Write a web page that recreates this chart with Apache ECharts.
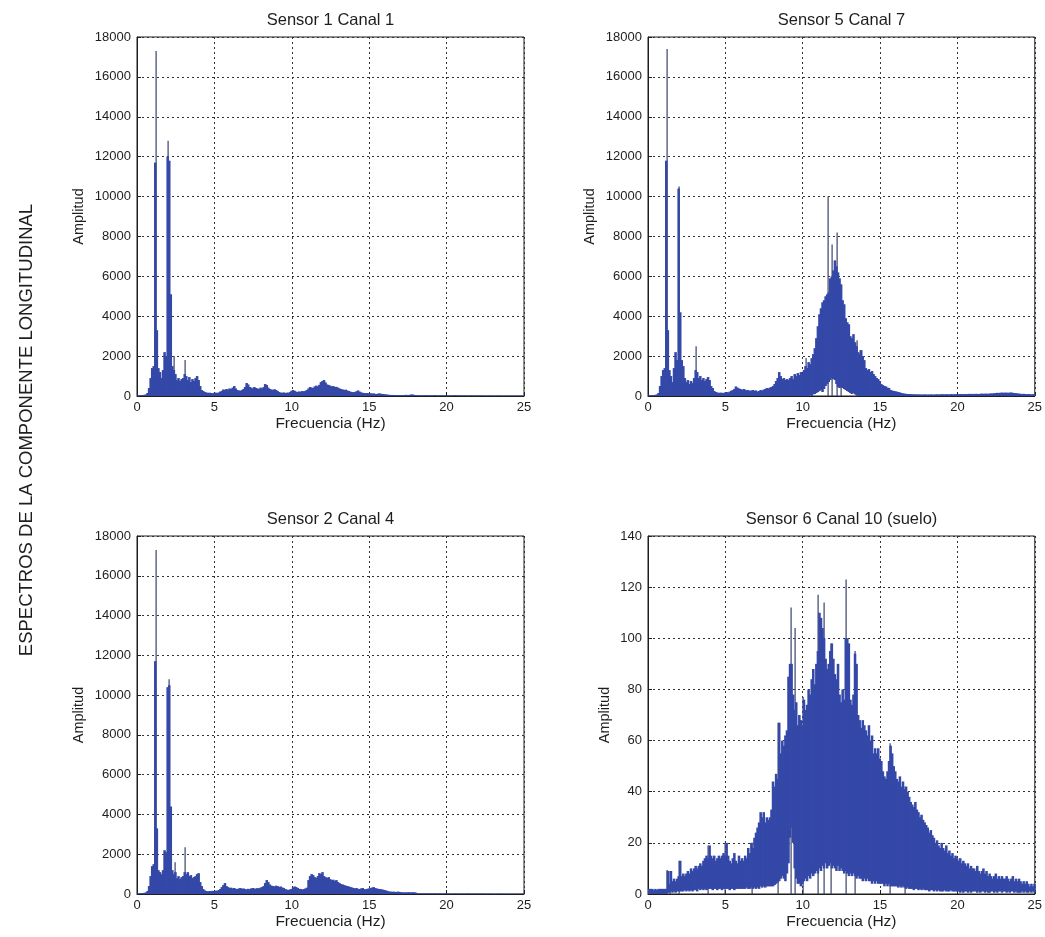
<!DOCTYPE html>
<html>
<head>
<meta charset="utf-8">
<script src="https://cdn.jsdelivr.net/npm/echarts@6/dist/echarts.min.js"></script>
<style>
html,body{margin:0;padding:0;background:#ffffff;}
#chart{width:1045px;height:937px;}
</style>
</head>
<body>
<div id="chart"></div>
<script>
// ---------------- DATA ----------------
// Spectra sampled in 0.1 Hz bins (bin i starts at i*0.1 Hz), 0 .. 25 Hz
const FREQ_STEP = 0.1;
const X_TICKS = [0, 5, 10, 15, 20, 25];

const TITLES = ["Sensor 1 Canal 1", "Sensor 5 Canal 7", "Sensor 2 Canal 4", "Sensor 6 Canal 10 (suelo)"];
const SIDE_LABEL = "ESPECTROS DE LA COMPONENTE LONGITUDINAL";
const X_NAME = "Frecuencia (Hz)";
const Y_NAME = "Amplitud";

// Sensor 1 Canal 1 - upper envelope
const S1_HI = [
  30, 40, 40, 50, 60, 80, 150, 400, 900, 1400,
  1500, 11700, 3300, 1400, 1200, 900, 1300, 2200, 2000, 12000,
  11800, 5100, 1500, 1300, 1100, 800, 900, 750, 850, 900,
  1100, 1000, 800, 950, 700, 850, 750, 900, 1000, 800,
  500, 300, 250, 200, 180, 150, 170, 150, 140, 160,
  170, 150, 180, 220, 260, 330, 300, 350, 320, 380,
  350, 420, 500, 380, 300, 280, 260, 300, 350, 450,
  650, 580, 450, 420, 380, 450, 400, 380, 350, 420,
  380, 450, 600, 550, 420, 350, 330, 300, 340, 300,
  250, 200, 170, 160, 180, 150, 170, 160, 200, 260,
  300, 260, 220, 200, 230, 210, 250, 230, 260, 300,
  380, 450, 420, 400, 480, 520, 480, 560, 700, 750,
  800, 680, 580, 550, 520, 480, 500, 450, 460, 420,
  380, 350, 330, 300, 320, 280, 250, 220, 200, 190,
  200, 240, 280, 220, 180, 160, 150, 140, 150, 130,
  140, 120, 130, 110, 100, 120, 130, 110, 100, 90,
  80, 70, 60, 50, 55, 45, 50, 40, 45, 40,
  45, 40, 50, 60, 45, 55, 70, 80, 60, 50,
  40, 35, 30, 35, 30, 40, 35, 30, 35, 30,
  30, 35, 50, 30, 25, 30, 35, 25, 30, 25,
  30, 25, 30, 25, 35, 50, 30, 25, 30, 25,
  25, 30, 25, 20, 25, 30, 25, 20, 25, 20,
  20, 25, 20, 25, 20, 15, 20, 25, 20, 15,
  20, 15, 20, 25, 20, 15, 20, 15, 20, 15,
  15, 20, 15, 20, 15, 20, 15, 20, 15, 20
];
const S1_LO_START = 0;
const S1_LO = [];
const S1_SPIKES = [[1.18, 11700], [1.25, 17300], [2.02, 12800], [2.39, 2000], [3.08, 1800]];

// Sensor 5 Canal 7
const S5_HI = [
  30, 40, 40, 50, 60, 80, 150, 500, 1000, 1300,
  1400, 11800, 3300, 1300, 1000, 700, 1400, 2200, 1800, 10400,
  4200, 1800, 1500, 900, 700, 800, 600, 750, 650, 900,
  1300, 1200, 900, 1000, 800, 900, 750, 850, 950, 800,
  500, 400, 250, 200, 180, 150, 170, 160, 150, 180,
  200, 180, 220, 260, 300, 350, 480, 420, 380, 350,
  300, 350, 320, 280, 300, 250, 280, 300, 260, 280,
  220, 250, 300, 280, 320, 350, 400, 380, 420, 450,
  500, 600, 750, 900, 1200, 1000, 850, 900, 800, 850,
  800, 900, 1000, 850, 1100, 1000, 1150, 1050, 1200, 1100,
  1300, 1500, 1400, 1700, 1600, 1900, 2100, 2400, 2900, 3500,
  4100, 4400, 4700, 4800, 5000, 5100, 5200, 5900, 6000, 6300,
  6800, 6500, 6200, 5900, 5600, 4800, 4600, 3900, 3700, 3600,
  3000, 2900, 3100, 2700, 2500, 2200, 2100, 2300, 2000, 1800,
  1400, 1300, 1350, 1200, 1250, 1100, 1000, 900, 850, 750,
  600, 550, 500, 480, 420, 400, 300, 280, 250, 240,
  220, 200, 180, 150, 130, 120, 110, 100, 100, 90,
  90, 80, 85, 80, 75, 80, 70, 75, 80, 70,
  75, 70, 80, 75, 70, 80, 85, 75, 80, 90,
  85, 80, 90, 85, 80, 95, 90, 85, 90, 95,
  90, 100, 95, 90, 100, 95, 100, 110, 100, 105,
  100, 110, 105, 100, 110, 120, 110, 115, 120, 110,
  120, 130, 125, 140, 150, 160, 150, 165, 170, 160,
  170, 165, 160, 170, 175, 160, 150, 140, 130, 120,
  110, 100, 110, 100, 90, 100, 90, 80, 90, 80
];
const S5_LO_START = 100; // bin index (10.0 Hz)
const S5_LO = [
  0, 0, 0, 0, 50, 0, 80, 100, 150, 200,
  250, 300, 200, 350, 500, 600, 700, 800, 900, 850,
  800, 600, 450, 400, 450, 400, 350, 300, 250, 200,
  150, 100, 150, 80, 50, 0, 0, 0, 0, 0
];
const S5_SPIKES = [[1.25, 17400], [2.0, 10500], [3.08, 2500], [10.2, 1900], [11.66, 10000],
  [11.92, 7600], [12.2, 8200], [12.5, 5400], [13.48, 2800], [13.72, 2300]];

// Sensor 2 Canal 4
const S2_HI = [
  30, 40, 40, 50, 60, 80, 150, 400, 900, 1400,
  1500, 11700, 3300, 1200, 1100, 1000, 1200, 2200, 2100, 10400,
  10500, 4400, 1200, 1000, 1100, 800, 900, 750, 850, 900,
  1100, 1000, 1100, 900, 950, 800, 850, 900, 1000, 1050,
  600, 400, 250, 180, 150, 130, 150, 140, 160, 150,
  170, 160, 200, 250, 350, 450, 550, 400, 350, 300,
  320, 280, 300, 260, 250, 280, 300, 260, 280, 250,
  230, 260, 240, 280, 300, 280, 260, 300, 280, 320,
  350, 400, 550, 700, 600, 480, 420, 400, 380, 420,
  400, 350, 380, 330, 300, 250, 220, 200, 230, 250,
  330, 380, 350, 300, 260, 250, 230, 250, 280, 320,
  700, 900, 1000, 950, 850, 800, 900, 1050, 1000, 1100,
  900, 850, 800, 850, 750, 700, 720, 650, 700, 600,
  550, 500, 480, 450, 420, 400, 380, 350, 330, 300,
  280, 300, 260, 250, 280, 300, 250, 230, 260, 280,
  300, 320, 350, 300, 280, 260, 250, 240, 220, 200,
  180, 150, 130, 120, 110, 120, 100, 110, 120, 100,
  90, 80, 85, 80, 90, 85, 80, 90, 85, 80,
  40, 30, 30, 25, 30, 25, 30, 25, 30, 25,
  25, 30, 25, 20, 25, 30, 25, 20, 25, 20,
  20, 25, 20, 15, 20, 25, 20, 15, 20, 15,
  20, 15, 20, 25, 20, 15, 20, 15, 20, 15,
  15, 20, 15, 20, 15, 10, 15, 20, 15, 10,
  15, 10, 15, 20, 15, 10, 15, 10, 15, 10,
  10, 15, 10, 15, 10, 15, 10, 15, 10, 15
];
const S2_LO_START = 0;
const S2_LO = [];
const S2_SPIKES = [[1.18, 11700], [1.25, 17300], [2.05, 10800], [2.43, 1600], [3.08, 2350]];

// Sensor 6 Canal 10 (suelo)
const S6_HI = [
  2, 2, 2, 1.5, 2, 1.5, 2, 2, 2, 2,
  2, 2, 9, 4, 9, 5, 6, 5, 6, 7,
  13, 7, 8, 7, 8, 9, 8, 10, 9, 10,
  11, 10, 11, 12, 11, 13, 14, 15, 14, 19,
  15, 14, 15, 13, 14, 15, 14, 15, 16, 15,
  20, 15, 13, 12, 14, 16, 13, 12, 15, 13,
  14, 13, 15, 14, 18, 16, 20, 18, 22, 24,
  26, 28, 32, 30, 32, 28, 30, 29, 30, 33,
  44, 42, 47, 45, 67, 55, 60, 58, 62, 64,
  85, 90, 90, 78, 72, 75, 66, 70, 68, 66,
  76, 72, 74, 80, 78, 84, 88, 82, 90, 95,
  110, 108, 104, 100, 92, 88, 90, 95, 98, 92,
  86, 84, 90, 78, 75, 80, 76, 100, 100, 98,
  76, 74, 78, 94, 90, 70, 68, 65, 68, 66,
  64, 62, 66, 60, 62, 55, 57, 55, 57, 53,
  52, 48, 46, 45, 48, 52, 58, 55, 50, 48,
  45, 44, 46, 42, 44, 41, 42, 40, 38, 36,
  35, 34, 36, 33, 32, 30, 31, 29, 28, 27,
  26, 24, 25, 23, 22, 20, 21, 19, 18, 20,
  18, 17, 19, 16, 17, 15, 16, 14, 15, 14,
  13, 14, 12, 13, 12, 11, 12, 10, 11, 10,
  10, 9, 11, 9, 8, 9, 10, 8, 9, 7,
  8, 7, 6, 7, 8, 6, 7, 6, 7, 6,
  6, 7, 6, 5, 6, 7, 5, 6, 5, 6,
  5, 4, 5, 4, 5, 4, 3, 4, 3, 4
];
const S6_LO_START = 0;
const S6_LO = [
  0, 0, 0, 0, 0, 0, 0, 0, 0, 0,
  0, 0, 0.5, 0.5, 1, 0.5, 1, 0.5, 1, 1,
  1, 1, 1, 1.5, 1, 1.5, 1, 1.5, 1, 1.5,
  1.5, 1, 2, 1.5, 2, 1.5, 2, 1.5, 2, 2,
  2, 1.5, 2, 2, 1.5, 2, 2, 1.5, 2, 2,
  2, 2, 1.5, 2, 2, 1.5, 2, 2, 2, 2,
  2, 2, 2, 2.5, 2, 2, 2.5, 2, 2.5, 2,
  2.5, 2, 3, 2.5, 3, 2.5, 3, 3, 3, 3,
  3, 3.5, 4, 4.5, 5, 6, 7, 6, 5, 8,
  12, 22, 26, 20, 10, 6, 4, 4, 3, 4,
  5, 6, 5, 7, 6, 8, 7, 8, 9, 8,
  10, 9, 11, 10, 12, 10, 11, 12, 10, 11,
  10, 9, 11, 9, 10, 9, 8, 9, 8, 7,
  8, 7, 8, 7, 6, 7, 6, 6, 5, 6,
  5, 6, 5, 5, 4, 5, 4, 5, 4, 4,
  4, 4, 3, 4, 3, 4, 3, 3, 3, 3,
  3, 2.5, 3, 2.5, 3, 2.5, 2, 2.5, 2, 2,
  2, 1.5, 2, 2, 1.5, 2, 1.5, 2, 1.5, 1.5,
  1.5, 1, 1.5, 1.5, 1, 1.5, 1, 1.5, 1, 1,
  1, 1.5, 1, 1, 1, 1.5, 1, 1, 1, 1,
  1, 0.5, 1, 0.5, 1, 1, 0.5, 1, 0.5, 1,
  1, 1, 0.5, 1, 0.5, 1, 1, 0.5, 1, 0.5,
  0.5, 1, 1, 0.5, 1, 0.5, 1, 1, 0.5, 1,
  1, 0.5, 1, 0.5, 1, 1, 0.5, 1, 0.5, 0.5,
  0.5, 1, 0.5, 1, 0.5, 0.5, 1, 0.5, 1, 0.5
];
const S6_SPIKES = [[1.25, 9.4], [1.42, 9], [2.0, 13], [3.9, 19], [5.0, 20], [6.7, 20], [8.41, 67],
  [9.23, 112], [9.5, 104], [10.0, 77], [10.99, 117], [11.36, 114], [11.8, 98], [12.78, 123],
  [13.36, 95], [15.62, 59], [16.6, 42]];

// ---------------- LAYOUT / STYLE ----------------
const FONT = '"Liberation Sans", Arial, Helvetica, sans-serif';
const FILL = '#3448a8';
const SPIKE = '#3b416e';
const INK = '#1e1e1e';
const PW = 387;

const panels = [
  {title: TITLES[0], hi: S1_HI, lo: S1_LO, loStart: S1_LO_START, spikes: S1_SPIKES, yMax: 18000, yStep: 2000, left: 137, top: 37, h: 359, nameGap: 51},
  {title: TITLES[1], hi: S5_HI, lo: S5_LO, loStart: S5_LO_START, spikes: S5_SPIKES, yMax: 18000, yStep: 2000, left: 648, top: 37, h: 359, nameGap: 51},
  {title: TITLES[2], hi: S2_HI, lo: S2_LO, loStart: S2_LO_START, spikes: S2_SPIKES, yMax: 18000, yStep: 2000, left: 137, top: 536, h: 358, nameGap: 51},
  {title: TITLES[3], hi: S6_HI, lo: S6_LO, loStart: S6_LO_START, spikes: S6_SPIKES, yMax: 140, yStep: 20, left: 648, top: 536, h: 358, nameGap: 36}
];

function binRender(params, api) {
  const f = api.value(0);
  const p0 = api.coord([f, api.value(1)]);
  const p1 = api.coord([f + FREQ_STEP, api.value(2)]);
  return {
    type: 'rect',
    shape: {x: p0[0], y: p1[1], width: p1[0] - p0[0] + 1, height: p0[1] - p1[1]},
    style: {fill: FILL, stroke: null}
  };
}
function spikeRender(params, api) {
  const a = api.coord([api.value(0), 0]);
  const b = api.coord([api.value(0), api.value(1)]);
  return {
    type: 'rect',
    shape: {x: Math.round(a[0]) - 0.5, y: b[1], width: 1.2, height: a[1] - b[1]},
    style: {fill: SPIKE, stroke: null}
  };
}

const grid = [], xAxis = [], yAxis = [], series = [], graphic = [];
panels.forEach((p, k) => {
  grid.push({left: p.left, top: p.top, width: PW, height: p.h, show: true, borderColor: INK, borderWidth: 1, backgroundColor: '#fff'});
  xAxis.push({
    gridIndex: k, type: 'value', min: X_TICKS[0], max: X_TICKS[X_TICKS.length - 1], interval: X_TICKS[1] - X_TICKS[0],
    name: X_NAME, nameLocation: 'middle', nameGap: 20,
    nameTextStyle: {fontFamily: FONT, fontSize: 15.5, color: INK},
    axisLine: {show: true, onZero: false, lineStyle: {color: INK, width: 1}},
    axisTick: {show: true, inside: true, length: 4, lineStyle: {color: INK}},
    axisLabel: {fontFamily: FONT, fontSize: 13, color: INK, margin: 5},
    splitLine: {show: true, lineStyle: {color: '#333', type: [2, 3], width: 1}}
  });
  yAxis.push({
    gridIndex: k, type: 'value', min: 0, max: p.yMax, interval: p.yStep,
    name: Y_NAME, nameLocation: 'middle', nameGap: p.nameGap,
    nameTextStyle: {fontFamily: FONT, fontSize: 14.5, color: INK},
    axisLine: {show: true, onZero: false, lineStyle: {color: INK, width: 1}},
    axisTick: {show: true, inside: true, length: 4, lineStyle: {color: INK}},
    axisLabel: {fontFamily: FONT, fontSize: 13, color: INK, margin: 6, formatter: v => String(v)},
    splitLine: {show: true, lineStyle: {color: '#333', type: [2, 3], width: 1}}
  });
  const bins = p.hi.map((h, i) => {
    const j = i - p.loStart;
    const lo = (j >= 0 && j < p.lo.length) ? p.lo[j] : 0;
    return [i * FREQ_STEP, lo, h];
  });
  // spikes drawn underneath the filled spectrum so only their tips show
  series.push({type: 'custom', xAxisIndex: k, yAxisIndex: k, data: p.spikes, encode: {x: 0, y: 1}, renderItem: spikeRender, silent: true, z: 2});
  series.push({type: 'custom', xAxisIndex: k, yAxisIndex: k, data: bins, encode: {x: 0, y: [1, 2]}, renderItem: binRender, silent: true, z: 3});
  graphic.push({
    type: 'text', x: p.left + PW / 2, y: p.top - 17,
    style: {text: p.title, fontFamily: FONT, fontSize: 16.5, fill: INK, align: 'center', verticalAlign: 'middle', textAlign: 'center', textVerticalAlign: 'middle'}
  });
});
graphic.push({
  type: 'text', x: 27, y: 430, rotation: Math.PI / 2,
  style: {text: SIDE_LABEL, fontFamily: FONT, fontSize: 18.5, fill: INK, align: 'center', verticalAlign: 'middle', textAlign: 'center', textVerticalAlign: 'middle'}
});

const chart = echarts.init(document.getElementById('chart'), null, {renderer: 'canvas'});
chart.setOption({
  backgroundColor: '#ffffff',
  animation: false,
  grid, xAxis, yAxis, series, graphic
});
</script>
</body>
</html>
